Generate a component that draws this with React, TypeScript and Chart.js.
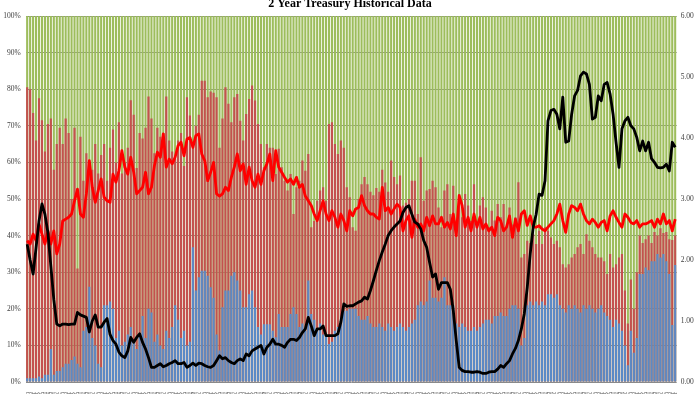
import React, { useEffect, useRef } from "react";
import { Chart, registerables } from "chart.js";

Chart.register(...registerables);

// Monthly auctions, Jan-2008 .. Apr-2026 (220 categories)
const MONTH_NAMES = ["Jan", "Feb", "Mar", "Apr", "May", "Jun", "Jul", "Aug", "Sep", "Oct", "Nov", "Dec"];
const FIRST_YEAR = 2008;
const N_AUCTIONS = 220;
const categories: string[] = [];
for (let i = 0; i < N_AUCTIONS; i++) {
  const y = FIRST_YEAR + Math.floor(i / 12);
  categories.push(`${String(y).slice(2)}-${MONTH_NAMES[i % 12]}`);
}

// Bottom (blue) bar, % of total
const blueBarPct: number[] = [
  1, 1, 1, 1, 1.5, 1, 2, 2, 9, 2,
  3, 3, 4, 5, 5, 6, 7, 5, 4, 14,
  15, 26, 12, 10, 5, 4, 21, 21, 22, 20,
  12, 14, 10, 11, 13, 15, 11, 9, 13, 18,
  12, 20, 19, 11, 13, 10, 9, 14, 12, 15,
  21, 17, 12, 14, 10, 11,
  36.8, 25, 28.6, 30.4, 30.4, 29, 25.9, 23, 13, 8.6,
  20.4, 25, 25, 29, 30, 27.7, 25, 20.4, 20.4, 24,
  25, 20.4, 15, 13, 15.8, 15.8, 15.8, 14, 12.2, 18.6,
  15, 15, 15, 18.6, 20.4, 18.6, 15, 16, 14, 27.7,
  18.6, 17, 14, 16, 13, 13, 10.4, 11, 14, 15,
  16, 19.5, 19.5, 20,
  20, 20, 18, 17, 17, 18, 16, 15, 15, 16,
  15, 14, 16, 15, 14, 15, 16, 15, 14, 15,
  16, 17, 21, 22, 21, 22, 27.7, 23, 23, 22,
  23, 28.6, 21, 21, 21, 16, 15, 16, 15, 14,
  14, 15, 14, 15, 16, 17, 17, 16, 18, 18,
  19, 18, 18, 20, 21, 21,
  20, 10, 12, 21, 22, 21, 22, 21, 22, 21,
  24, 24, 23, 24, 21, 20, 19, 21, 20, 21,
  20, 19, 21, 20, 21, 20, 19, 20, 21, 19,
  18, 17, 15, 17, 16, 14, 10, 4.6, 14, 8,
  12, 29.5, 29.5, 31.3, 30.5, 33, 33, 35, 34, 35,
  33, 29.5, 15.6, 32,
];

// Top of the red bar (blue + red), % of total
const redBarPct: number[] = [
  80.5, 80, 73.5, 66, 77.5, 71.5, 63, 70.5, 72, 58,
  65, 69.5, 65, 72, 68, 50, 69.5, 31, 67, 55,
  62.5, 60, 58, 65, 57, 62, 65, 55, 64, 69,
  60, 71, 57, 60, 64, 77, 73, 58.5, 68, 66.5,
  69.5, 78, 72, 62.5, 69.5, 67, 68, 78, 66, 63,
  61, 66, 68, 59, 77.8, 72.8,
  64, 70, 73, 82.3, 82.3, 77.8, 79.4, 79, 77.8, 64,
  72, 80.5, 76, 71, 77.8, 78.7, 71.4, 66, 73.2, 77.3,
  81, 76.9, 70.5, 65, 58.7, 65, 64, 64, 56.8, 63.7,
  58.7, 55, 52.3, 56.8, 45.9, 53.2, 55, 60.5, 57.7, 62.3,
  42.3, 44, 49.5, 52.3, 53.2, 49.5, 70.5, 71, 65, 62.3,
  66, 64, 53.2, 50.5,
  42.3, 41.3, 50, 54, 56, 54, 52, 51, 53, 52,
  58, 54.5, 52, 60.5, 56, 54, 56.4, 48.2, 49, 50,
  55, 55, 45.9, 61.4, 49.5, 52.3, 52.7, 55, 53.2, 47.7,
  42.3, 52.3, 54, 45.9, 53.6, 44.1, 51.4, 45, 51.4, 48.2,
  44, 54, 42.3, 48.2, 50.5, 47.7, 42.3, 46.8, 44.1, 48.6,
  45, 48.6, 42.3, 47.7, 43, 45,
  54.6, 34, 35, 38.6, 38, 40.4, 37.7, 41.3, 37.7, 42.3,
  41.3, 39.5, 37.7, 38.6, 36.8, 32.2, 31.3, 32.2, 34, 35,
  36.8, 37.7, 35, 40.4, 38.6, 36.8, 35, 34, 34, 33,
  29.5, 35, 31.3, 32.2, 34, 35, 25, 16, 28, 20,
  30, 40, 38, 39, 40, 38, 41, 40, 42, 40.7,
  41, 39, 38.8, 40,
];

// Green bar always fills to 100%
const greenBarPct: number[] = categories.map(() => 100);

// Red line, left axis (%)
const redLinePct: number[] = [
  38.6, 37.7, 40.4, 38.6, 43.2, 40.4, 37.7, 41.3, 37.7, 41.3,
  35, 37.7, 44, 44.5, 45, 45.9, 49.5, 52.7, 45.9, 45,
  51.4, 60.5, 53.2, 49.1, 52.3, 55.5, 50.5, 49.5, 49.1, 56.8,
  54.6, 57.7, 63.2, 58.7, 56.8, 61.4, 57.3, 51.4, 52.3, 53.2,
  57.3, 51.4, 53.2, 59.1, 62.8, 61.4, 67.8, 58.7, 60.9, 59.6,
  61.4, 64.6, 65.5, 61.8, 66.4, 66.8,
  64.1, 67.3, 67.8, 62.3, 60.5, 55, 57.3, 60, 51.4, 50.8,
  51.4, 53.2, 52.3, 55.9, 58.7, 62.3, 57.7, 59.6, 54, 58.7,
  55, 53.2, 56.8, 54, 57.7, 59.6, 62.3, 55, 63.2, 58.7,
  57.3, 55.9, 54.6, 55.5, 54, 55.9, 53.2, 54, 50.8, 49.5,
  48.2, 45.9, 44.1, 46.8, 49.5, 45.9, 44.1, 46.8, 45, 42.3,
  45.9, 44.1, 41.3, 46.8,
  45.4, 47.3, 47.7, 50.9, 48.2, 46.8, 45.9, 45.9, 45, 44.5,
  53.2, 46.8, 47.7, 45.9, 47.3, 48.6, 47.7, 41.3, 44.1, 45.4,
  39.5, 44.5, 42.3, 43.2, 41.3, 45, 42.7, 45.4, 43.2, 43.2,
  45, 42.3, 43.6, 41.8, 45.9, 40, 50.9, 48.2, 42.3, 45,
  41.3, 45.9, 42.3, 45, 41.8, 43.2, 41.3, 42.3, 40, 45,
  44.1, 41.3, 42.3, 45.4, 39.5, 44.5,
  41.3, 45.9, 46.8, 42.8, 45.4, 42.3, 42.3, 42.7, 41.8, 41.3,
  42.3, 43.2, 44.1, 45.9, 48.6, 44.1, 40.9, 45.9, 48.2, 47.7,
  46.8, 48.6, 45.9, 44.1, 43.2, 44.5, 43.6, 42.3, 43.6, 44.1,
  41.3, 45.4, 46.8, 45, 43.6, 42.3, 45.9, 45, 43.6, 43.2,
  44.1, 42.3, 43.2, 43.2, 43.6, 44.1, 42.3, 44.5, 43.2, 45.9,
  43.2, 44.1, 41.3, 44.5,
];

// Black line, right axis (yield)
const blackLineYield: number[] = [
  2.26, 2.0, 1.77, 2.2, 2.64, 2.92, 2.75, 2.45, 1.9, 1.35,
  0.95, 0.92, 0.95, 0.95, 0.94, 0.95, 0.95, 1.14, 1.1, 1.08,
  1.06, 0.82, 1.0, 1.1, 0.9, 0.9, 0.98, 1.04, 0.78, 0.68,
  0.62, 0.49, 0.43, 0.4, 0.51, 0.73, 0.65, 0.73, 0.79, 0.65,
  0.54, 0.4, 0.24, 0.24, 0.27, 0.3, 0.25, 0.27, 0.3, 0.32,
  0.35, 0.3, 0.3, 0.32, 0.24, 0.27,
  0.31, 0.27, 0.31, 0.3, 0.27, 0.25, 0.24, 0.27, 0.35, 0.43,
  0.38, 0.4, 0.35, 0.32, 0.3, 0.35, 0.38, 0.35, 0.46, 0.43,
  0.51, 0.54, 0.57, 0.6, 0.46, 0.57, 0.62, 0.7, 0.62, 0.62,
  0.6, 0.57, 0.65, 0.7, 0.7, 0.68, 0.73, 0.81, 0.87, 1.06,
  0.92, 0.76, 0.87, 0.87, 0.92, 0.76, 0.76, 0.76, 0.76, 0.79,
  0.98, 1.28, 1.24, 1.25,
  1.25, 1.28, 1.31, 1.33, 1.39, 1.36, 1.5, 1.66, 1.83, 1.99,
  2.13, 2.26, 2.4, 2.48, 2.54, 2.59, 2.64, 2.78, 2.86, 2.89,
  2.75, 2.62, 2.59, 2.51, 2.32, 2.21, 1.96, 1.72, 1.77, 1.52,
  1.63, 1.63, 1.63, 1.52, 1.17, 0.68, 0.24, 0.19, 0.17, 0.17,
  0.16, 0.16, 0.17, 0.16, 0.14, 0.14, 0.16, 0.17, 0.17, 0.21,
  0.27, 0.24, 0.3, 0.35, 0.46, 0.55,
  0.68, 0.87, 1.12, 1.55, 2.1, 2.54, 2.75, 3.08, 3.06, 3.3,
  4.28, 4.45, 4.47, 4.39, 4.15, 4.67, 3.93, 3.95, 4.39, 4.69,
  4.78, 5.02, 5.08, 5.05, 4.88, 4.31, 4.34, 4.69, 4.61, 4.88,
  4.91, 4.72, 4.39, 3.93, 3.52, 4.15, 4.28, 4.34, 4.2, 4.15,
  4.01, 3.79, 3.95, 3.79, 3.93, 3.66, 3.6, 3.52, 3.51, 3.52,
  3.57, 3.46, 3.93, 3.85,
];

const LEFT_TICK_STEP = 10;
const RIGHT_TICK_STEP = 1;
const TITLE = "2 Year Treasury Historical Data";
const SERIF = '"Liberation Serif", "Times New Roman", "DejaVu Serif", serif';

export default function App() {
  const canvasRef = useRef<HTMLCanvasElement | null>(null);

  useEffect(() => {
    document.body.style.margin = "0";
    const canvas = canvasRef.current;
    if (!canvas) return;
    const chart = new Chart(canvas, {
      type: "bar",
      data: {
        labels: categories,
        datasets: [
          {
            type: "line",
            data: blackLineYield,
            yAxisID: "y2",
            borderColor: "#000000",
            borderWidth: 2.8,
            pointRadius: 0,
            tension: 0,
            borderJoinStyle: "round",
            order: 0,
          } as any,
          {
            type: "line",
            data: redLinePct,
            yAxisID: "y",
            borderColor: "#FF0000",
            borderWidth: 2.8,
            pointRadius: 0,
            tension: 0,
            borderJoinStyle: "round",
            order: 1,
          } as any,
          {
            type: "bar",
            data: blueBarPct,
            yAxisID: "y",
            backgroundColor: "#5B8AC6",
            grouped: false,
            order: 2,
          } as any,
          {
            type: "bar",
            data: redBarPct,
            yAxisID: "y",
            backgroundColor: "#C4514F",
            grouped: false,
            order: 3,
          } as any,
          {
            type: "bar",
            data: greenBarPct,
            yAxisID: "y",
            backgroundColor: "#9DBD5C",
            grouped: false,
            order: 4,
          } as any,
        ],
      },
      options: {
        animation: false,
        responsive: false,
        maintainAspectRatio: false,
        layout: { padding: 0 },
        datasets: { bar: { categoryPercentage: 1, barPercentage: 0.72 } } as any,
        plugins: {
          legend: { display: false },
          tooltip: { enabled: false },
          title: {
            display: true,
            text: TITLE,
            color: "#000000",
            font: { family: SERIF, size: 12, weight: "bold" },
            padding: { top: 8.8, bottom: 4.8 },
          },
        },
        scales: {
          x: {
            grid: { display: false },
            border: { display: false },
            ticks: {
              autoSkip: false,
              maxRotation: 90,
              minRotation: 90,
              padding: 2,
              color: "#555555",
              font: { family: SERIF, size: 6 },
            },
            afterFit: (s: any) => {
              s.height = 36;
            },
          },
          y: {
            min: 0,
            max: 100,
            ticks: {
              stepSize: LEFT_TICK_STEP,
              padding: 5,
              color: "#404040",
              font: { family: SERIF, size: 7.5 },
              callback: (v: any) => `${v}%`,
            },
            grid: { color: "#8a8a8a", lineWidth: 1, drawTicks: false },
            border: { display: false },
            afterFit: (s: any) => {
              s.width = 25.7;
            },
          },
          y2: {
            position: "right",
            min: 0,
            max: 6,
            ticks: {
              stepSize: RIGHT_TICK_STEP,
              padding: 4,
              color: "#404040",
              font: { family: SERIF, size: 7.5 },
              callback: (v: any) => Number(v).toFixed(2),
            },
            grid: { display: false, drawTicks: false },
            border: { display: false },
            afterFit: (s: any) => {
              s.width = 23.3;
            },
          },
        },
      } as any,
    });
    return () => chart.destroy();
  }, []);

  return (
    <div style={{ position: "fixed", left: 0, top: -12, width: 700, height: 430 }}>
      <canvas ref={canvasRef} width={700} height={430} style={{ width: 700, height: 430, display: "block" }} />
    </div>
  );
}
